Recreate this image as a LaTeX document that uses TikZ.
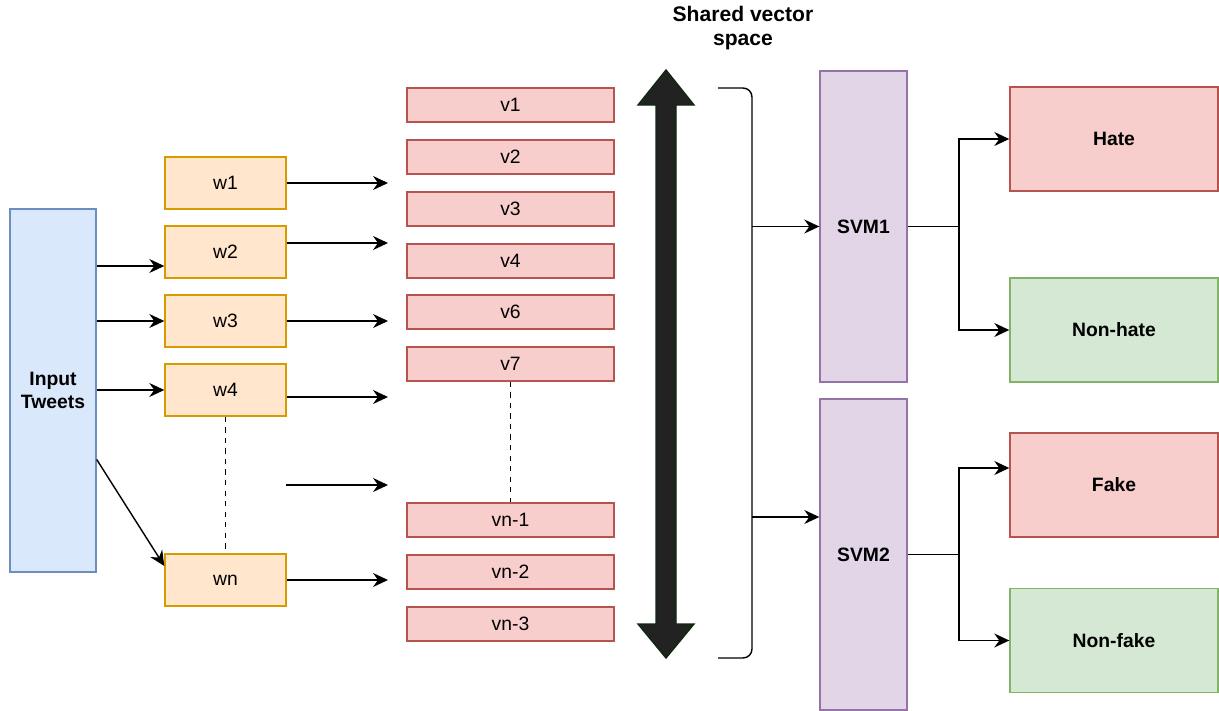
\documentclass[tikz,border=0pt]{standalone}
\usepackage{fontspec}
\setmainfont{Liberation Sans}
\usepackage{xcolor}
\usepackage{tikz}
\usetikzlibrary{positioning,calc,arrows.meta}
\definecolor{inc}{HTML}{DAE8FC}
\definecolor{inl}{HTML}{6C8EBF}
\definecolor{wc}{HTML}{FFE6CC}
\definecolor{wl}{HTML}{D79B00}
\definecolor{vc}{HTML}{F8CECC}
\definecolor{vl}{HTML}{B85450}
\definecolor{sc}{HTML}{E1D5E7}
\definecolor{sl}{HTML}{9673A6}
\definecolor{gc}{HTML}{D5E8D4}
\definecolor{gl}{HTML}{82B366}
\definecolor{bigc}{HTML}{222222}
\definecolor{bigl}{HTML}{0E2A0E}

\begin{document}
\begin{tikzpicture}[x=0.2mm, y=-0.2mm, line width=0.8pt,
    font=\fontsize{11}{13}\selectfont,
    box/.style={draw, inner sep=1pt, align=center},
    wbox/.style={box, fill=wc, draw=wl, minimum width=24.2mm, minimum height=10.4mm},
    vbox/.style={box, fill=vc, draw=vl, minimum width=41.4mm, minimum height=6.8mm},
    svm/.style={box, fill=sc, draw=sl, minimum width=17.4mm, minimum height=62.2mm, font=\fontsize{11}{13}\selectfont\bfseries},
    cls/.style={box, minimum width=41.6mm, minimum height=20.8mm, font=\fontsize{11}{13}\selectfont\bfseries},
    arr/.style={-{Stealth[length=3mm, width=2.8mm, inset=1mm]}}]
  \useasboundingbox (0,0) rectangle (1219,711);
  % input and word boxes
  \node[box, fill=inc, draw=inl, minimum width=17.2mm, minimum height=72.6mm, font=\fontsize{11}{13}\selectfont\bfseries] (in) at (53,390.5) {Input\\Tweets};
  \foreach \n/\y in {w1/183, w2/252, w3/321, w4/390, wn/580}{\node[wbox] (\n) at (225.5,\y) {\n};}
  % vectors
  \foreach \n/\y/\t in {v1/105/v1, v2/157/v2, v3/209/v3, v4/261/v4, v6/312/v6, v7/364/v7, vm1/520/vn-1, vm2/572/vn-2, vm3/624/vn-3}{\node[vbox] (\n) at (510.5,\y) {\t};}
  \coordinate (vx) at (388,0);
  \coordinate (gap) at (286,485);
  \draw[arr] ([yshift=-2.8mm]in.east |- w2.west) -- ([yshift=-2.8mm]w2.west);
  \draw[arr] (in.east |- w3) -- (w3.west);
  \draw[arr] (in.east |- w4) -- (w4.west);
  \draw[arr] ([yshift=-13.8mm]in.east) -- ([yshift=2.8mm]wn.west);
  \draw[arr] (w1.east) -- (w1.east -| vx);
  \draw[arr] ([yshift=1.8mm]w2.east) -- ([yshift=1.8mm]w2.east -| vx);
  \draw[arr] (w3.east) -- (w3.east -| vx);
  \draw[arr] ([yshift=-1.4mm]w4.east) -- ([yshift=-1.4mm]w4.east -| vx);
  \draw[arr] (gap) -- (gap -| vx);
  \draw[arr] (wn.east) -- (wn.east -| vx);
  \draw[dashed] (w4.south) -- (wn.north);
  \draw[dashed] (v7.south) -- (vm1.north);
  % shared space
  \node[font=\fontsize{12}{14}\selectfont\bfseries, align=center] (shared) at (743,28) {Shared vector\\space};
  \filldraw[fill=bigc, draw=bigl] (656,105) -- (638,105) -- (666,70) -- (694,105) -- (676,105) -- (676,624)
    -- (694,624) -- (666,658) -- (638,624) -- (656,624) -- cycle;
  \draw[rounded corners=1.8mm] (718,88) -- (752,88) -- (752,658) -- (718,658);
  \coordinate (br1) at (752,226.5);
  \coordinate (br2) at (752,517);
  % classifiers
  \node[svm] (s1) at (863.5,226.5) {SVM1};
  \node[svm] (s2) at (863.5,554.5) {SVM2};
  \draw[arr] (br1) -- (s1.west);
  \draw[arr] (br2) -- (br2 -| s2.west);
  \node[cls, fill=vc, draw=vl] (hate) at (1114,139) {Hate};
  \node[cls, fill=gc, draw=gl] (nonhate) at (1114,330) {Non-hate};
  \node[cls, fill=vc, draw=vl] (fake) at (1114,485) {Fake};
  \node[cls, fill=gc, draw=gl] (nonfake) at (1114,640.5) {Non-fake};
  \coordinate (j1) at (959,226.5);
  \coordinate (j2) at (959,554.5);
  \draw (s1.east) -- (j1);
  \draw[arr] (j1) |- (hate.west);
  \draw[arr] (j1) |- (nonhate.west);
  \draw (s2.east) -- (j2);
  \draw[arr] (j2) |- ([yshift=3.4mm]fake.west);
  \draw[arr] (j2) |- (nonfake.west);
\end{tikzpicture}
\end{document}
